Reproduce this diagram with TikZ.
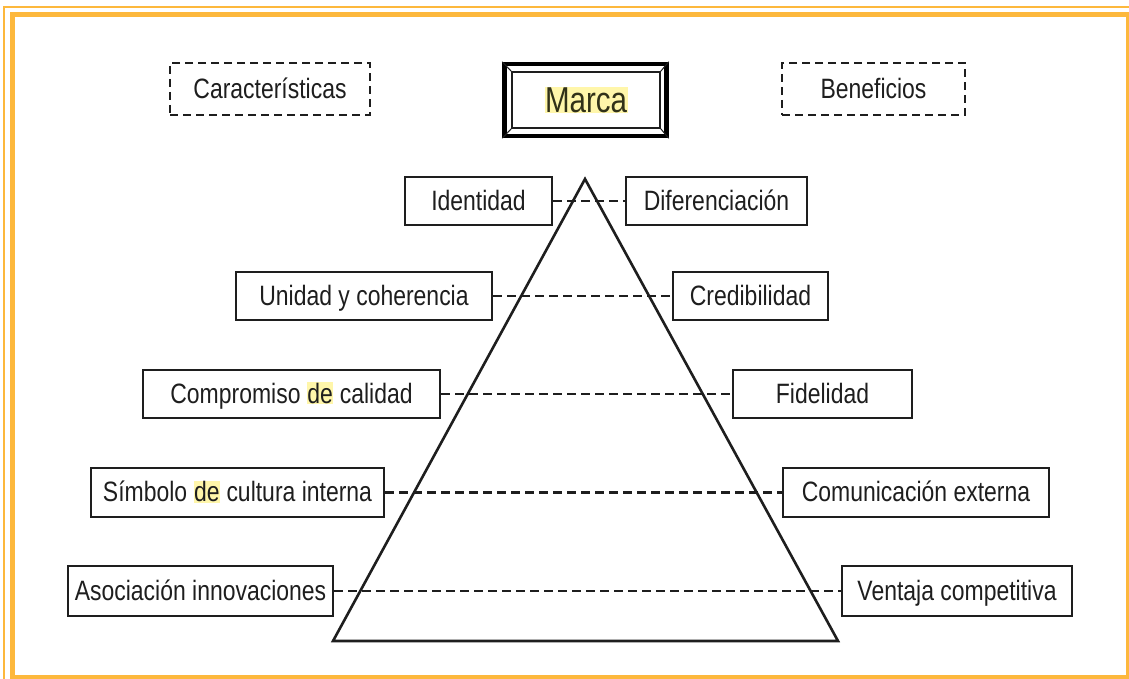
\documentclass[tikz,border=0pt]{standalone}
\usepackage{fontspec}
\setmainfont{Liberation Sans}[FakeStretch=0.82]
\usepackage{xcolor}
\definecolor{frameorange}{RGB}{253,184,60}
\definecolor{hl}{RGB}{255,246,170}
\definecolor{ink}{RGB}{30,30,30}
\newcommand{\hlt}[1]{{\setlength{\fboxsep}{0.5pt}\colorbox{hl}{#1}}}
\begin{document}
\begin{tikzpicture}[x=1pt,y=-1pt,
  lbl/.style={draw=ink, line width=2.2pt, text=ink, inner sep=0pt,
    text height=22pt, text depth=3.5pt,
    font=\fontsize{28}{32}\selectfont},
  dbox/.style={draw=ink, line width=2.6pt, dash pattern=on 8pt off 5pt, text=ink,
    inner sep=0pt, text height=22pt, text depth=3.5pt,
    font=\fontsize{28}{32}\selectfont},
  link/.style={draw=ink, line width=2.4pt, dash pattern=on 9pt off 5pt},
  pyr/.style={draw=ink, line width=2.6pt, line join=miter}]
\useasboundingbox (0,0) rectangle (1129,679);
\fill[white] (0,0) rectangle (1129,679);
% orange frame
\draw[frameorange, line width=1.5pt] (4,679) -- (4,7) -- (1129,7);
\draw[frameorange, line width=5pt] (12,15) rectangle (1128,677);
% pyramid
\coordinate (apex) at (585,179);
\coordinate (bl) at (333,641);
\coordinate (br) at (838,641);
\draw[pyr] (apex) -- (bl) -- (br) -- cycle;
% top boxes
\node[dbox, minimum width=200pt, minimum height=52pt] (car) at (270,89) {Características};
\node[dbox, minimum width=183pt, minimum height=52pt] (ben) at (873.5,89) {Beneficios};
\node[draw=black, line width=4.5pt, minimum width=162pt, minimum height=72pt, inner sep=0pt] (marca) at (585.5,100) {};
\node[draw=ink, line width=1.2pt, minimum width=148pt, minimum height=56pt, inner sep=0pt,
  text=ink!80!olive, font=\fontsize{36}{40}\selectfont] (marcain) at (586,100) {\hlt{Marca}};
\draw[ink, line width=1pt] (marca.north west) -- (marcain.north west);
\draw[ink, line width=1pt] (marca.north east) -- (marcain.north east);
\draw[ink, line width=1pt] (marca.south west) -- (marcain.south west);
\draw[ink, line width=1pt] (marca.south east) -- (marcain.south east);
% left boxes
\node[lbl, minimum width=147pt, minimum height=48pt] (ident) at (478.5,201) {Identidad};
\node[lbl, minimum width=256pt, minimum height=48pt] (unid) at (364,296) {Unidad y coherencia};
\node[lbl, minimum width=297pt, minimum height=48pt] (comp) at (291.5,394) {Compromiso \hlt{de} calidad};
\node[lbl, minimum width=293pt, minimum height=49pt] (simb) at (237.5,492.5) {Símbolo \hlt{de} cultura interna};
\node[lbl, minimum width=265pt, minimum height=50pt] (asoc) at (200.5,591) {Asociación innovaciones};
% right boxes
\node[lbl, minimum width=181pt, minimum height=48pt] (dif) at (716.5,201) {Diferenciación};
\node[lbl, minimum width=155pt, minimum height=48pt] (cred) at (750.5,296) {Credibilidad};
\node[lbl, minimum width=179pt, minimum height=48pt] (fid) at (822.5,394) {Fidelidad};
\node[lbl, minimum width=266pt, minimum height=49pt] (com) at (916,492.5) {Comunicación externa};
\node[lbl, minimum width=230pt, minimum height=50pt] (vent) at (957,591) {Ventaja competitiva};
% dashed links
\draw[link] (ident.east) -- (dif.west);
\draw[link] (unid.east) -- (cred.west);
\draw[link] (comp.east) -- (fid.west);
\draw[link] (simb.east) -- (com.west);
\draw[link] (asoc.east) -- (vent.west);
\end{tikzpicture}
\end{document}
